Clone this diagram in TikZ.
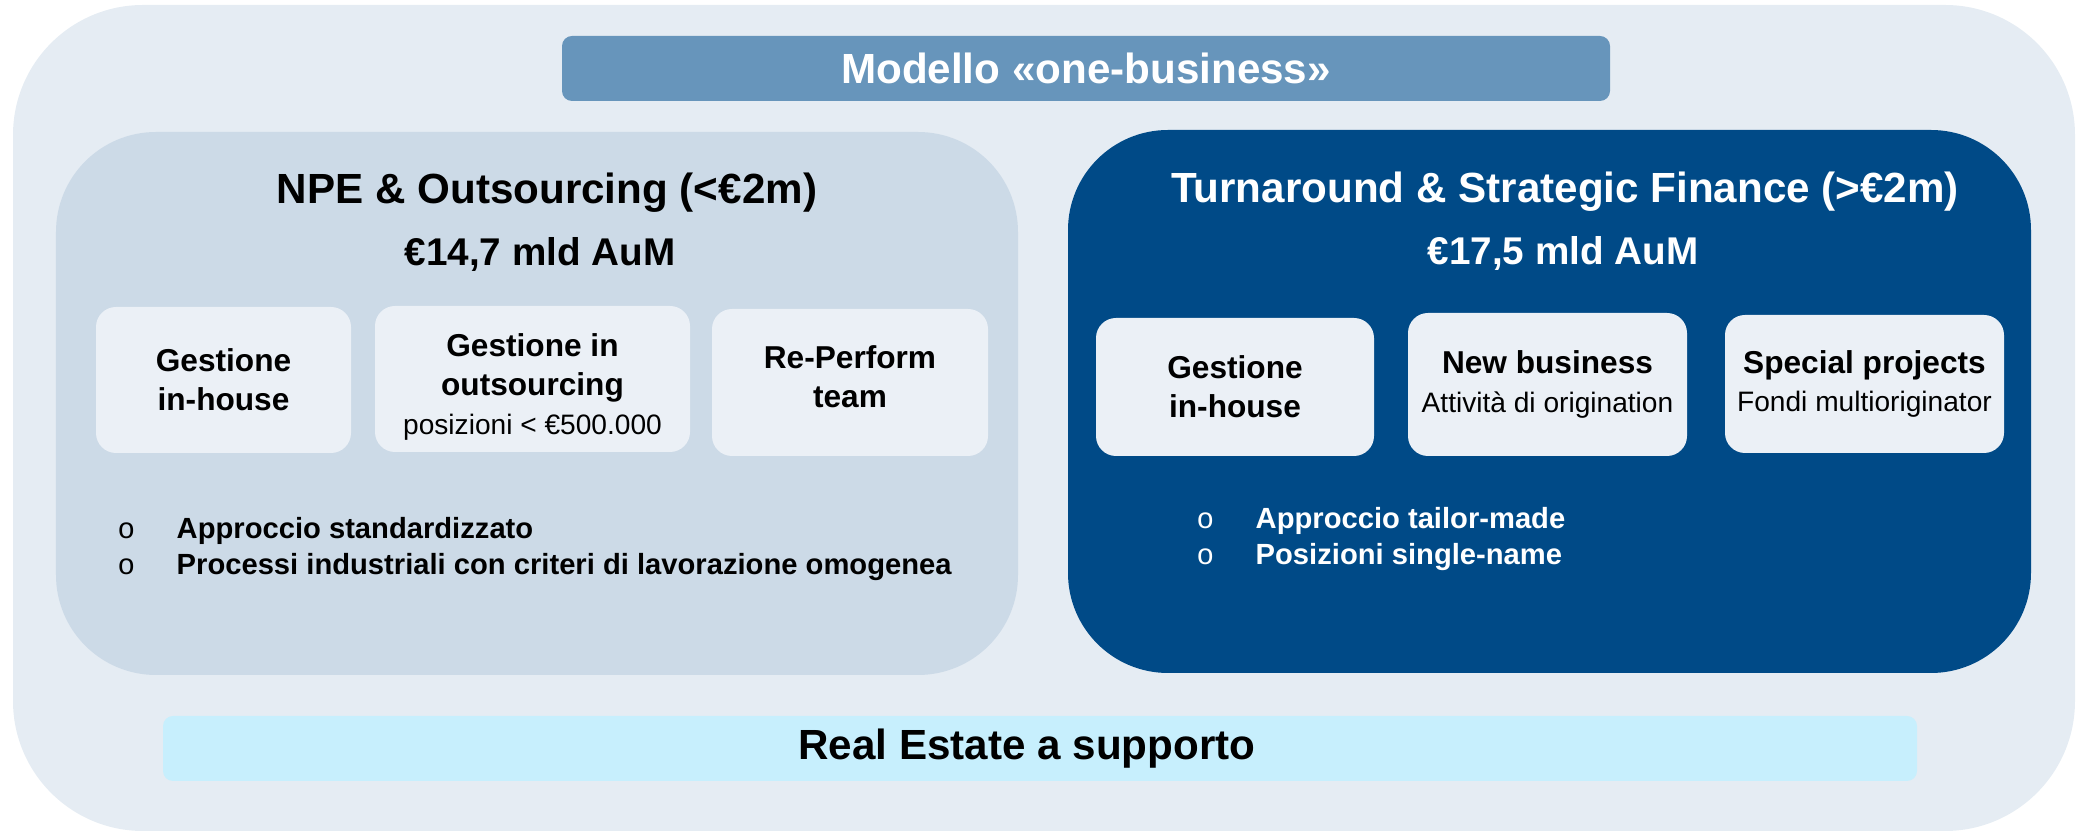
\documentclass[tikz,border=0pt]{standalone}
\usepackage{fontspec}
\setmainfont{Liberation Sans}
\newfontfamily\bulletfont{Liberation Mono}
\definecolor{outerbg}{HTML}{E5ECF3}
\definecolor{titlebg}{HTML}{6795BB}
\definecolor{npebg}{HTML}{CCDAE7}
\definecolor{tsfbg}{HTML}{004A87}
\definecolor{cardbg}{HTML}{EBF0F6}
\definecolor{rebg}{HTML}{C7EFFD}
\newcommand{\bul}{\makebox[0.59cm][l]{\bulletfont\mdseries o}}
\begin{document}
\begin{tikzpicture}[panel/.style={rounded corners=1cm,inner sep=0pt},
card/.style={fill=cardbg,rounded corners=0.2cm,inner sep=0pt,align=center,font=\bfseries\fontsize{9}{11}\selectfont},
head/.style={font=\bfseries\fontsize{12}{14}\selectfont},
aum/.style={font=\bfseries\fontsize{11}{13}\selectfont},
bullets/.style={anchor=west,align=left,inner sep=0pt,font=\bfseries\fontsize{8.3}{10.2}\selectfont}]
\useasboundingbox (0,0) rectangle (20.77,-8.32);
\node[fill=outerbg,rounded corners=1.3cm,minimum width=20.62cm,minimum height=8.26cm] (outer) at (10.44,-4.18) {};
\node[fill=titlebg,rounded corners=0.1cm,minimum width=10.48cm,minimum height=0.65cm,text=white,head] (titlebar) at (10.86,-0.685) {Modello «one-business»};
% two business lines
\node[panel,fill=npebg,minimum width=9.62cm,minimum height=5.43cm] (npe) at (5.37,-4.035) {};
\node[panel,fill=tsfbg,minimum width=9.63cm,minimum height=5.43cm] (tsf) at (15.495,-4.015) {};
\node[head] (npehead) at (5.47,-1.93) {NPE \& Outsourcing (<€2m)};
\node[aum] (npeaum) at (5.40,-2.54) {€14,7 mld AuM};
\node[head,text=white] (tsfhead) at (15.65,-1.92) {Turnaround \& Strategic Finance (>€2m)};
\node[aum,text=white] (tsfaum) at (15.63,-2.53) {€17,5 mld AuM};
% cards
\node[card,minimum width=2.55cm,minimum height=1.46cm] (npeinhouse) at (2.235,-3.80) {Gestione\\in-house};
\node[card,minimum width=3.15cm,minimum height=1.46cm] (npeout) at (5.325,-3.79) {\rule{0pt}{0.39cm}Gestione in\\outsourcing\\{\mdseries\fontsize{8}{9.5}\selectfont posizioni < €500.000}};
\node[card,minimum width=2.76cm,minimum height=1.47cm] (reperform) at (8.50,-3.825) {Re-Perform\\team\rule[-0.12cm]{0pt}{0.12cm}};
\node[card,minimum width=2.78cm,minimum height=1.38cm] (tsfinhouse) at (12.35,-3.87) {Gestione\\in-house};
\node[card,minimum width=2.79cm,minimum height=1.43cm] (newbiz) at (15.475,-3.845) {New business\\{\mdseries\fontsize{8}{9.5}\selectfont Attività di origination}};
\node[card,minimum width=2.79cm,minimum height=1.38cm] (special) at (18.645,-3.84) {Special projects\\{\mdseries\fontsize{8}{9.5}\selectfont Fondi multioriginator}};
% bullets
\node[bullets] (npebul) at (1.17,-5.49) {\bul Approccio standardizzato\\\bul Processi industriali con criteri di lavorazione omogenea};
\node[bullets,text=white] (tsfbul) at (11.96,-5.39) {\bul Approccio tailor-made\\\bul Posizioni single-name};
\node[fill=rebg,rounded corners=0.1cm,minimum width=17.54cm,minimum height=0.65cm,head] (realestate) at (10.40,-7.485) {Real Estate a supporto\kern0.26cm};
\end{tikzpicture}
\end{document}
